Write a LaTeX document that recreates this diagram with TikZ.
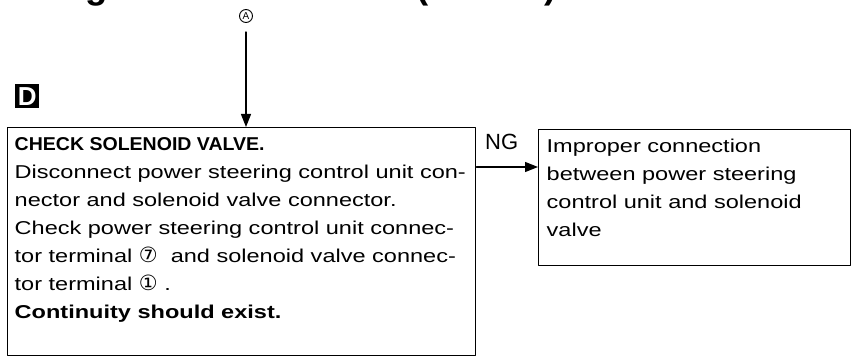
\documentclass[tikz,border=0pt]{standalone}
\usepackage{fontspec}
\setmainfont{Liberation Sans}
\newfontfamily\bodyfont[FakeStretch=1.265]{Liberation Sans}
\newfontfamily\headfont[FakeStretch=1.05]{Liberation Sans}
\newfontfamily\digitfont{DejaVu Sans}
\usetikzlibrary{arrows.meta,positioning}
\newcommand\circdigit[1]{{\digitfont\fontsize{21}{21}\selectfont #1}}
\begin{document}
\begin{tikzpicture}[x=1pt,y=-1pt,line cap=round,line join=round,
  every node/.style={inner sep=0pt},
  box/.style={draw,line width=1.4pt,anchor=north west,align=left},
  flow/.style={line width=1.2pt,-{Triangle[length=13pt,width=10pt]}}]
  \useasboundingbox (0,0) rectangle (852,358);
  \clip (0,0) rectangle (852,358);
  % heading, cut off at the top edge
  \node[anchor=base west,font=\bfseries\fontsize{36.5}{36.5}\selectfont] (title) at (29,-1) {Diagnostic Procedure (Cont'd)};
  \node[draw,circle,minimum size=13pt,line width=0.9pt,font=\fontsize{10}{10}\selectfont] (A) at (246,16) {A};
  \node[fill=black,text=white,font=\bfseries\fontsize{26}{26}\selectfont,minimum size=24pt,anchor=north west] (D) at (15,84) {D};
  \node[box,inner xsep=7pt,inner ysep=9.7pt] (check) at (7,127) {\parbox[t][208.6pt][t]{454pt}{\raggedright\fontsize{18.6}{28}\selectfont
    {\headfont\bfseries CHECK SOLENOID VALVE.}\\
    {\bodyfont Disconnect power steering control unit con-}\\
    {\bodyfont nector and solenoid valve connector.}\\
    {\bodyfont Check power steering control unit connec-}\\
    {\bodyfont tor terminal \circdigit{⑦}\ \ and solenoid valve connec-}\\
    {\bodyfont tor terminal \circdigit{①} .}\\
    {\bodyfont\bfseries Continuity should exist.}}};
  \node[box,inner xsep=8pt,inner ysep=9.7pt] (improper) at (538,129) {\parbox[t][116.6pt][t]{296pt}{\raggedright\fontsize{18.6}{28}\selectfont\bodyfont
    Improper connection\\
    between power steering\\
    control unit and solenoid\\
    valve}};
  \node[anchor=base west,font=\fontsize{22}{22}\selectfont] (ng) at (485,150) {NG};
  \path (0,167) coordinate (ngy);
  \draw[flow] ([yshift=-9pt]A.south) -- (A |- check.north);
  \draw[flow] (check.east |- ngy) -- (improper.west |- ngy);
\end{tikzpicture}
\end{document}
